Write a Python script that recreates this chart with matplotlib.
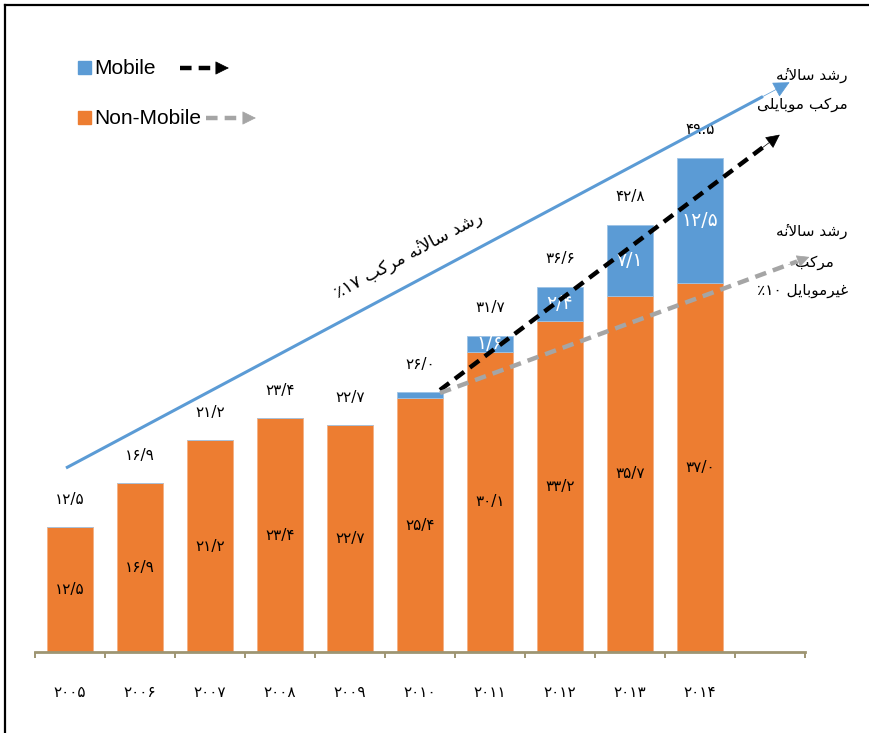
import matplotlib
matplotlib.use("Agg")
import matplotlib.pyplot as plt
from matplotlib.lines import Line2D
from matplotlib.patches import FancyArrowPatch, Rectangle

# ---------------- data ----------------
years = ["2005", "2006", "2007", "2008", "2009", "2010", "2011", "2012", "2013", "2014"]
non_mobile = [12.5, 16.9, 21.2, 23.4, 22.7, 25.4, 30.1, 33.2, 35.7, 37.0]
mobile = [0, 0, 0, 0, 0, 0.6, 1.6, 3.4, 7.1, 12.5]
total_labels = ["12/5", "16/9", "21/2", "23/4", "22/7", "26/0", "31/7", "36/6", "42/8", "49.5"]
non_mobile_labels = ["12/5", "16/9", "21/2", "23/4", "22/7", "25/4", "30/1", "33/2", "35/7", "37/0"]
mobile_labels = ["", "", "", "", "", "", "1/6", "2/4", "7/1", "12/5"]

ORANGE = "#ED7D31"
BLUE = "#5B9BD5"
GRAY = "#A5A5A5"
AXIS = "#9E9572"
W, H = 869, 733

FA = ["DejaVu Sans"]
EN = ["Liberation Sans", "DejaVu Sans"]

def fa_digits(s):
    return "".join(chr(0x06F0 + int(c)) if c.isdigit() else c for c in s)

# minimal Persian shaper (presentation forms, visual order)
HAMZA = "\u0654"
FORMS = {
    "\u0627": ("\uFE8D", "\uFE8E", None, None),
    "\u0628": ("\uFE8F", "\uFE90", "\uFE91", "\uFE92"),
    "\u062F": ("\uFEA9", "\uFEAA", None, None),
    "\u0631": ("\uFEAD", "\uFEAE", None, None),
    "\u0633": ("\uFEB1", "\uFEB2", "\uFEB3", "\uFEB4"),
    "\u0634": ("\uFEB5", "\uFEB6", "\uFEB7", "\uFEB8"),
    "\u063A": ("\uFECD", "\uFECE", "\uFECF", "\uFED0"),
    "\u0644": ("\uFEDD", "\uFEDE", "\uFEDF", "\uFEE0"),
    "\u0645": ("\uFEE1", "\uFEE2", "\uFEE3", "\uFEE4"),
    "\u0646": ("\uFEE5", "\uFEE6", "\uFEE7", "\uFEE8"),
    "\u0647": ("\uFEE9", "\uFEEA", "\uFEEB", "\uFEEC"),
    "\u0648": ("\uFEED", "\uFEEE", None, None),
    "\u06A9": ("\uFB8E", "\uFB8F", "\uFB90", "\uFB91"),
    "\u06CC": ("\uFBFC", "\uFBFD", "\uFBFE", "\uFBFF"),
    "\u06C0": ("\uFEE9" + HAMZA, "\uFEEA" + HAMZA, None, None),
}

def dual(c):
    return c in FORMS and FORMS[c][2] is not None

def shape(text):
    out = []
    chars = list(text)
    i = 0
    n = len(chars)
    while i < n:
        c = chars[i]
        if c not in FORMS:
            out.append(c)
            i += 1
            continue
        prev_joins = i > 0 and dual(chars[i - 1])
        if c == "\u0644" and i + 1 < n and chars[i + 1] == "\u0627":
            out.append("\uFEFC" if prev_joins else "\uFEFB")
            i += 2
            continue
        next_joins = dual(c) and i + 1 < n and chars[i + 1] in FORMS
        iso, fin, ini, med = FORMS[c]
        if prev_joins and next_joins:
            g = med
        elif prev_joins:
            g = fin
        elif next_joins:
            g = ini
        else:
            g = iso
        out.append(g)
        i += 1
    return "".join(reversed(out))

growth = "\u0631\u0634\u062F \u0633\u0627\u0644\u0627\u0646\u06C0"       # رشد سالانهٔ
compound = "\u0645\u0631\u06A9\u0628"                                   # مرکب
mobile_w = "\u0645\u0648\u0628\u0627\u06CC\u0644\u06CC"                 # موبایلی
nonmobile_w = "\u063A\u06CC\u0631\u0645\u0648\u0628\u0627\u06CC\u0644"  # غیرموبایل

# ---------------- figure ----------------
fig = plt.figure(figsize=(W / 100, H / 100), dpi=100)
fig.patch.set_facecolor("white")

def fp(x, y):
    return (x / W, 1 - y / H)

ax = fig.add_axes([35 / W, (H - 652) / H, 770 / W, (652 - 60) / H])
ax.set_xlim(-0.5, 10.5)
ax.set_ylim(0, 59.3)
x = list(range(len(years)))
ax.bar(x, non_mobile, width=0.67, color=ORANGE, edgecolor="#F4B183", linewidth=0.6, zorder=2)
ax.bar(x, mobile, bottom=non_mobile, width=0.67, color=BLUE, edgecolor="#9DC3E6", linewidth=0.6, zorder=2)

for s in ["left", "right", "top"]:
    ax.spines[s].set_visible(False)
ax.spines["bottom"].set_color(AXIS)
ax.spines["bottom"].set_linewidth(2.0)
ax.set_yticks([])
ax.set_xticks([i - 0.5 for i in range(12)])
ax.set_xticklabels([])
ax.tick_params(axis="x", which="major", direction="out", length=4.5, width=1.4, color=AXIS)
ax.set_xticks(x, [fa_digits(y) for y in years], minor=True)
ax.tick_params(axis="x", which="minor", length=0, pad=24, labelsize=11)
for lab in ax.get_xticklabels(minor=True):
    lab.set_family(FA)

for i in x:
    ax.text(i, non_mobile[i] / 2, fa_digits(non_mobile_labels[i]), ha="center", va="center",
            fontsize=11, family=FA, color="black", zorder=3)
    if mobile_labels[i]:
        ax.text(i, non_mobile[i] + mobile[i] / 2, fa_digits(mobile_labels[i]), ha="center",
                va="center", fontsize=13.5, family=FA, color="white", zorder=3)
    tot = non_mobile[i] + mobile[i]
    ax.text(i, tot + 2.8, fa_digits(total_labels[i]), ha="center", va="center",
            fontsize=11, family=FA, color="black", zorder=3)

# ---------------- trend arrows (decorations) ----------------
def arrow(p0, p1, color, lw, dashed, head=18):
    x0, y0 = fp(*p0)
    x1, y1 = fp(*p1)
    fx = x0 + (x1 - x0) * 0.96
    fy = y0 + (y1 - y0) * 0.96
    ls = (0, (2.6, 1.6)) if dashed else "-"
    fig.add_artist(Line2D([x0, fx], [y0, fy], color=color, lw=lw, linestyle=ls,
                          transform=fig.transFigure, solid_capstyle="butt", dash_capstyle="butt",
                          zorder=5))
    hx = x0 + (x1 - x0) * 0.93
    hy = y0 + (y1 - y0) * 0.93
    fig.add_artist(FancyArrowPatch((hx, hy), (x1, y1), transform=fig.transFigure,
                                   arrowstyle="-|>", mutation_scale=head, color=color,
                                   lw=0.5, zorder=6))

def seg_arrow(p0, p1, color, lw, dashed, head=18):
    x0, y0 = fp(*p0)
    x1, y1 = fp(*p1)
    ls = (0, (2.6, 1.6)) if dashed else "-"
    fig.add_artist(Line2D([x0, x1], [y0, y1], color=color, lw=lw, linestyle=ls,
                          transform=fig.transFigure, dash_capstyle="butt", zorder=5))
    fig.add_artist(FancyArrowPatch((x1 - 0.001, y1), (x1 + 0.018, y1), transform=fig.transFigure,
                                   arrowstyle="-|>", mutation_scale=head, color=color,
                                   lw=0.5, zorder=6))

arrow((66, 468), (792, 81), BLUE, 2.2, False, head=26)
arrow((440, 390), (782, 133), "black", 3.2, True, head=22)
arrow((440, 393), (812, 256), GRAY, 3.2, True, head=20)

# ---------------- legend ----------------
fig.add_artist(Rectangle(fp(78, 74), 13 / W, 13 / H, transform=fig.transFigure, color=BLUE))
fig.add_artist(Rectangle(fp(78, 124), 13 / W, 13 / H, transform=fig.transFigure, color=ORANGE))
fig.text(*fp(94, 68), "Mobile", fontsize=15, family=EN, va="center", ha="left")
fig.text(*fp(94, 118), "Non-Mobile", fontsize=15, family=EN, va="center", ha="left")
seg_arrow((180, 68), (216, 68), "black", 3.2, True, head=22)
seg_arrow((206, 118), (243, 118), GRAY, 3.2, True, head=22)

# ---------------- annotation texts ----------------
fig.text(*fp(848, 75), shape(growth), fontsize=11, family=FA, ha="right", va="center")
fig.text(*fp(848, 105), shape(compound + " " + mobile_w), fontsize=11, family=FA, ha="right", va="center")
fig.text(*fp(848, 231), shape(growth), fontsize=11, family=FA, ha="right", va="center")
fig.text(*fp(834, 262), shape(compound), fontsize=11, family=FA, ha="right", va="center")
fig.text(*fp(848, 291), fa_digits("\u066A10 ") + shape(nonmobile_w), fontsize=11, family=FA,
         ha="right", va="center")
fig.text(*fp(408, 255), fa_digits("\u066A17 ") + shape(growth + " " + compound), fontsize=12.5,
         family=FA, ha="center", va="center", rotation=28.2, rotation_mode="anchor")

# ---------------- frame ----------------
fig.add_artist(Line2D([5 / W, 5 / W], [0, 1 - 5 / H], color="black", lw=1.6, transform=fig.transFigure))
fig.add_artist(Line2D([5 / W, 1], [1 - 5 / H, 1 - 5 / H], color="black", lw=1.6, transform=fig.transFigure))

fig.savefig("out.png", dpi=100, facecolor="white")
